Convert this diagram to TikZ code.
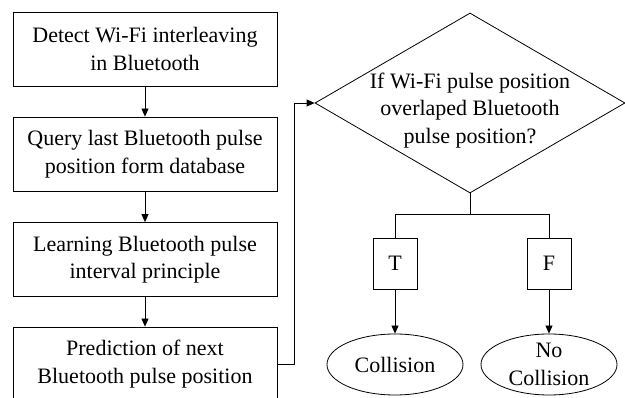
\documentclass[tikz,border=0pt]{standalone}
\usepackage{fontspec}
\setmainfont{Liberation Serif}
\usetikzlibrary{shapes.geometric,arrows.meta}
\begin{document}
\begin{tikzpicture}[x=1pt, y=-1pt, line width=0.8pt, >={Triangle[length=8pt,width=7pt]},
    font=\fontsize{22}{27.5}\selectfont,
    stepbox/.style={draw, minimum width=264pt, minimum height=74pt, align=center, inner sep=2pt},
    tfbox/.style={draw, minimum width=44pt, minimum height=51pt, inner sep=0pt},
    endstate/.style={draw, ellipse, minimum width=136pt, minimum height=61pt, inner sep=0pt, align=center}]
    \useasboundingbox (0,0) rectangle (625,398);
    %nodes
    \node[stepbox] at (145,49) (detect) {Detect Wi-Fi interleaving\\in Bluetooth};
    \node[stepbox] at (145,154) (query) {Query last Bluetooth pulse\\position form database};
    \node[stepbox] at (145,259.5) (learn) {Learning Bluetooth pulse\\interval principle};
    \node[stepbox] at (145,364) (predict) {Prediction of next\\Bluetooth pulse position};
    \node[draw, diamond, aspect=1.72, minimum width=310pt, minimum height=180pt, inner xsep=-20pt, inner ysep=-8pt, align=center]
        at (470,103) (overlap) {\rule{0pt}{30pt}If Wi-Fi pulse position\\overlaped Bluetooth\\pulse position?};
    \coordinate (split) at (470,214);
    \node[tfbox] at (395,263.5) (true) {T};
    \node[tfbox] at (549,263.5) (false) {F};
    \node[endstate] at (395,364.5) (coll) {Collision};
    \node[endstate] at (549,364.5) (nocoll) {No\\Collision};
    \path[->]
        (detect) edge (query)
        (query) edge (learn)
        (learn) edge (predict)
        (true) edge (coll)
        (false) edge (nocoll);
    \draw[->] (predict.east) -- ++(17,0) |- (overlap.west);
    \draw (overlap.south) -- (split) -| (true.north);
    \draw (split) -| (false.north);
\end{tikzpicture}
\end{document}
